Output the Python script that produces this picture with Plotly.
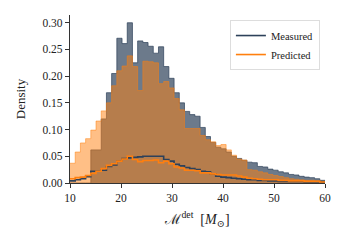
import numpy as np
import plotly.graph_objects as go

# 49 equal bins between 10 and 60 (detector-frame chirp mass)
bin_lo, bin_hi, n_bins = 10.0, 60.0, 49

measured_fill = [0.0, 0.0, 0.0, 0.0, 0.062, 0.062, 0.120, 0.169, 0.205, 0.271,
                 0.261, 0.300, 0.225, 0.266, 0.263, 0.256, 0.243, 0.255, 0.218, 0.196,
                 0.169, 0.150, 0.134, 0.128, 0.125, 0.104, 0.087, 0.076, 0.067, 0.064,
                 0.058, 0.050, 0.046, 0.0425, 0.039, 0.038, 0.031, 0.030, 0.026, 0.024,
                 0.021, 0.019, 0.016, 0.015, 0.0125, 0.011, 0.010, 0.008, 0.005]

predicted_fill = [0.037, 0.058, 0.075, 0.083, 0.099, 0.116, 0.135, 0.150, 0.182, 0.210,
                  0.219, 0.238, 0.218, 0.173, 0.228, 0.227, 0.225, 0.186, 0.190, 0.178,
                  0.158, 0.137, 0.102, 0.102, 0.102, 0.089, 0.081, 0.077, 0.070, 0.072,
                  0.062, 0.052, 0.045, 0.043, 0.025, 0.024, 0.021, 0.019, 0.016, 0.014,
                  0.012, 0.010, 0.008, 0.007, 0.006, 0.005, 0.005, 0.004, 0.003]

measured_line = [0.004, 0.006, 0.008, 0.012, 0.022, 0.022, 0.024, 0.031, 0.034, 0.041,
                 0.046, 0.047, 0.048, 0.049, 0.050, 0.050, 0.050, 0.050, 0.044, 0.041,
                 0.035, 0.032, 0.029, 0.027, 0.025, 0.022, 0.021, 0.017, 0.0125, 0.011,
                 0.010, 0.009, 0.008, 0.007, 0.006, 0.006, 0.005, 0.005, 0.004, 0.004,
                 0.003, 0.003, 0.003, 0.003, 0.003, 0.002, 0.002, 0.002, 0.002]

predicted_line = [0.008, 0.010, 0.011, 0.014, 0.018, 0.022, 0.027, 0.033, 0.036, 0.041,
                  0.045, 0.050, 0.044, 0.040, 0.042, 0.042, 0.043, 0.038, 0.041, 0.036,
                  0.030, 0.028, 0.024, 0.024, 0.023, 0.019, 0.019, 0.017, 0.016, 0.015,
                  0.015, 0.015, 0.013, 0.011, 0.009, 0.008, 0.007, 0.006, 0.006, 0.006,
                  0.005, 0.005, 0.004, 0.004, 0.004, 0.003, 0.003, 0.003, 0.002]

series_names = ["Measured", "Predicted"]
x_ticks = [10, 20, 30, 40, 50, 60]
y_ticks = [0.00, 0.05, 0.10, 0.15, 0.20, 0.25, 0.30]

edges = np.linspace(bin_lo, bin_hi, n_bins + 1)


def step_y(vals):
    return list(vals) + [vals[-1]]


DARK = "rgb(45,65,90)"
ORANGE = "rgb(255,127,14)"
FONT = "Liberation Serif, DejaVu Serif, Times New Roman, serif"

fig = go.Figure()
fig.add_trace(go.Scatter(x=edges, y=step_y(measured_fill), mode="lines", line_shape="hv",
                         fill="tozeroy", fillcolor="rgba(45,65,90,0.7)",
                         line=dict(color="rgba(45,65,90,0.7)", width=1), showlegend=False,
                         hoverinfo="skip"))
fig.add_trace(go.Scatter(x=edges, y=step_y(predicted_fill), mode="lines", line_shape="hv",
                         fill="tozeroy", fillcolor="rgba(255,127,14,0.5)",
                         line=dict(color="rgba(255,127,14,0.5)", width=1), showlegend=False,
                         hoverinfo="skip"))
fig.add_trace(go.Scatter(x=edges, y=step_y(measured_line), mode="lines", line_shape="hv",
                         line=dict(color=DARK, width=1.6), name=series_names[0]))
fig.add_trace(go.Scatter(x=edges, y=step_y(predicted_line), mode="lines", line_shape="hv",
                         line=dict(color=ORANGE, width=1.6), name=series_names[1]))

axis_common = dict(showgrid=False, zeroline=False, showline=True, linecolor="#333333",
                   linewidth=1.2, ticks="outside", ticklen=4, tickwidth=1.1,
                   tickcolor="#333333", tickfont=dict(family=FONT, size=11.5, color="#222222"),
                   mirror=False)

fig.update_layout(
    width=347, height=247,
    margin=dict(l=70, r=22, t=15, b=64, autoexpand=False),
    paper_bgcolor="white", plot_bgcolor="white",
    font=dict(family=FONT, size=11, color="#222222"),
    xaxis=dict(range=[bin_lo, bin_hi], tickvals=x_ticks, ticktext=[str(v) for v in x_ticks],
               title=dict(text="ℳ<sup>det</sup>  [<i>M</i><sub>⊙</sub>]",
                          font=dict(family=FONT, size=14), standoff=11),
               automargin=False, **axis_common),
    yaxis=dict(range=[0, 0.3145], tickvals=y_ticks,
               ticktext=[f"{v:.2f}" for v in y_ticks],
               title=dict(text="Density", font=dict(family=FONT, size=13), standoff=13),
               automargin=False, **axis_common),
    legend=dict(x=0.98, y=0.97, xanchor="right", yanchor="top",
                bgcolor="rgba(255,255,255,0.85)", bordercolor="#dddddd", borderwidth=1,
                font=dict(family=FONT, size=10.5), tracegroupgap=0,
                itemwidth=30),
)

fig.write_html("out.html", post_script="document.body.style.margin='0';",
               config={"displayModeBar": False})
